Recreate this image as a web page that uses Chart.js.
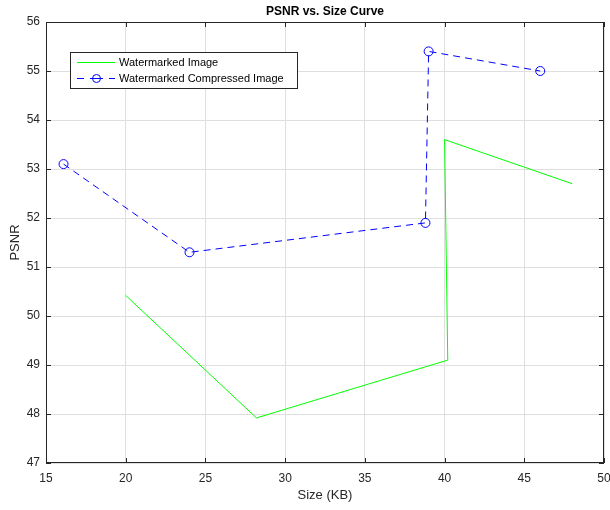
<!DOCTYPE html>
<html>
<head>
<meta charset="utf-8">
<script src="https://cdn.jsdelivr.net/npm/chart.js@4"></script>
<style>
  body { margin: 0; background: #fff; }
  canvas { display: block; }
</style>
</head>
<body>
<canvas id="grafico" width="610" height="510"></canvas>
<script>
// dados
const tamanhoMarcada = [20, 28.2, 40.2, 40.0, 48];
const psnrMarcada = [50.42, 47.92, 49.1, 53.6, 52.7];

const tamanhoComprimida = [16.1, 24, 38.8, 39.0, 46];
const psnrComprimida = [53.1, 51.3, 51.9, 55.4, 55.0];

const ticksX = [15, 20, 25, 30, 35, 40, 45, 50];
const ticksY = [47, 48, 49, 50, 51, 52, 53, 54, 55, 56];

const nomes = ['Watermarked Image', 'Watermarked Compressed Image'];
const fonte = '"Liberation Sans", Arial, sans-serif';
const corTexto = '#262626';
const tracejado = [7, 5];

function pontos(xs, ys) {
    return xs.map((x, i) => ({ x: x, y: ys[i] }));
}

// desenha título, rótulos dos eixos, moldura e legenda no estilo MATLAB
const estiloMatlab = {
    id: 'estiloMatlab',
    afterDraw(chart) {
        const ctx = chart.ctx;
        const a = chart.chartArea;
        const sx = chart.scales.x, sy = chart.scales.y;
        ctx.save();

        // moldura
        ctx.strokeStyle = corTexto;
        ctx.lineWidth = 1;
        ctx.strokeRect(a.left + 0.5, a.top + 0.5, a.right - a.left - 1, a.bottom - a.top - 1);

        // marcas internas
        ctx.beginPath();
        ticksX.forEach(v => {
            const px = Math.round(sx.getPixelForValue(v)) + 0.5;
            ctx.moveTo(px, a.bottom); ctx.lineTo(px, a.bottom - 5);
            ctx.moveTo(px, a.top); ctx.lineTo(px, a.top + 5);
        });
        ticksY.forEach(v => {
            const py = Math.round(sy.getPixelForValue(v)) + 0.5;
            ctx.moveTo(a.left, py); ctx.lineTo(a.left + 5, py);
            ctx.moveTo(a.right, py); ctx.lineTo(a.right - 5, py);
        });
        ctx.stroke();

        // título
        ctx.fillStyle = '#000';
        ctx.font = 'bold 12px ' + fonte;
        ctx.textAlign = 'center';
        ctx.textBaseline = 'middle';
        ctx.fillText('PSNR vs. Size Curve', (a.left + a.right) / 2, 12);

        // rótulos dos eixos
        ctx.fillStyle = corTexto;
        ctx.font = '13px ' + fonte;
        ctx.fillText('Size (KB)', (a.left + a.right) / 2, 495);
        ctx.translate(15, (a.top + a.bottom) / 2);
        ctx.rotate(-Math.PI / 2);
        ctx.fillText('PSNR', 0, 0);
        ctx.setTransform(1, 0, 0, 1, 0, 0);

        // legenda
        ctx.fillStyle = '#fff';
        ctx.fillRect(70, 52, 227, 36);
        ctx.strokeStyle = corTexto;
        ctx.strokeRect(70.5, 52.5, 227, 36);

        ctx.lineWidth = 1;
        ctx.strokeStyle = '#00ff00';
        ctx.beginPath();
        ctx.moveTo(77, 62.5); ctx.lineTo(115, 62.5);
        ctx.stroke();

        ctx.strokeStyle = '#0000ff';
        ctx.beginPath();
        ctx.moveTo(77, 78.5); ctx.lineTo(84, 78.5);
        ctx.moveTo(90, 78.5); ctx.lineTo(103, 78.5);
        ctx.moveTo(109, 78.5); ctx.lineTo(115, 78.5);
        ctx.stroke();
        ctx.beginPath();
        ctx.arc(96.5, 78.5, 4, 0, Math.PI * 2);
        ctx.stroke();

        ctx.fillStyle = '#000';
        ctx.font = '11px ' + fonte;
        ctx.textAlign = 'left';
        ctx.fillText(nomes[0], 119, 62.5);
        ctx.fillText(nomes[1], 119, 78.5);

        ctx.restore();
    }
};

const grafico = new Chart(document.getElementById('grafico'), {
    type: 'scatter',
    data: {
        datasets: [{
            label: nomes[0],
            data: pontos(tamanhoMarcada, psnrMarcada),
            showLine: true,
            borderColor: '#00ff00',
            borderWidth: 1,
            pointRadius: 0,
            tension: 0
        }, {
            label: nomes[1],
            data: pontos(tamanhoComprimida, psnrComprimida),
            showLine: true,
            borderColor: '#0000ff',
            borderWidth: 1,
            borderDash: tracejado,
            pointRadius: 4.5,
            pointBorderWidth: 1,
            pointBorderColor: '#0000ff',
            pointBackgroundColor: 'rgba(0,0,0,0)',
            tension: 0
        }]
    },
    options: {
        responsive: false,
        animation: false,
        layout: { padding: { top: 22, right: 6, left: 0, bottom: 0 } },
        plugins: {
            legend: { display: false },
            title: { display: false },
            tooltip: { enabled: false }
        },
        scales: {
            x: {
                type: 'linear',
                min: 15, max: 50,
                afterBuildTicks: s => { s.ticks = ticksX.map(v => ({ value: v })); },
                afterFit: s => { s.height = 47; s.paddingLeft = 0; s.paddingRight = 0; },
                grid: { color: '#dfdfdf', drawTicks: false },
                border: { display: false },
                ticks: { color: corTexto, font: { family: fonte, size: 12 }, padding: 8, maxRotation: 0 }
            },
            y: {
                type: 'linear',
                min: 47, max: 56,
                afterBuildTicks: s => { s.ticks = ticksY.map(v => ({ value: v })); },
                afterFit: s => { s.width = 46; s.paddingTop = 0; s.paddingBottom = 0; },
                grid: { color: '#dfdfdf', drawTicks: false },
                border: { display: false },
                ticks: { color: corTexto, font: { family: fonte, size: 12 }, padding: 6 }
            }
        }
    },
    plugins: [estiloMatlab]
});
</script>
</body>
</html>
